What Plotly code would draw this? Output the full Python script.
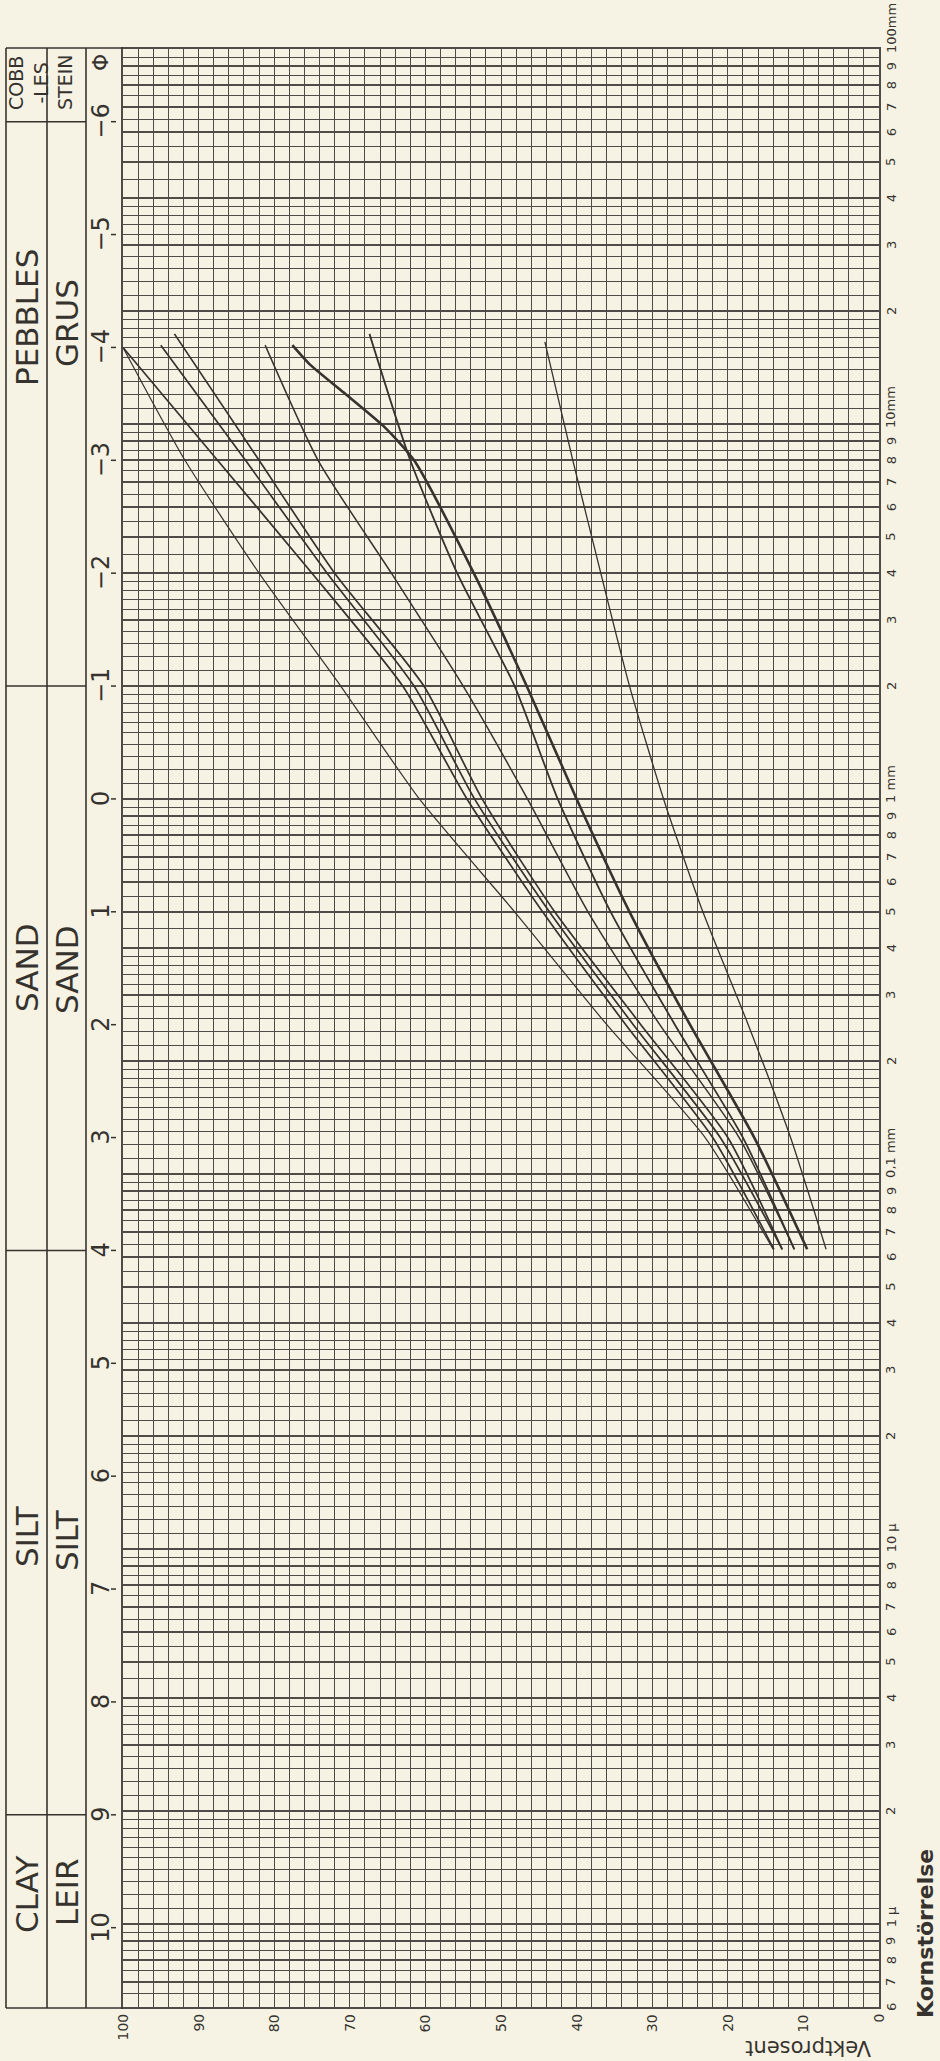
import math
import plotly.graph_objects as go

# ---------------- data ----------------
# weight-percent scale (horizontal in the picture)
pct_major = list(range(0, 101, 10))
pct_minor = [v for v in range(0, 101, 2) if v % 10]
pct_labels = [str(v) for v in pct_major]

# phi scale (grain size, vertical)
phi_ticks = list(range(-6, 11))
phi_labels = ['\u22126', '\u22125', '\u22124', '\u22123', '\u22122', '\u22121',
              '0', '1', '2', '3', '4', '5', '6', '7', '8', '9', '10']

# log-mm grid: decades and digit subdivisions
decades_mm = [0.0001, 0.001, 0.01, 0.1, 1, 10]
heavy_digits = [1, 2, 3, 4, 5, 6, 7, 8, 9]
fine_digits = [1.1, 1.2, 1.3, 1.4, 1.5, 1.6, 1.7, 1.8, 1.9,
               2.2, 2.4, 2.6, 2.8, 3.2, 3.4, 3.6, 3.8,
               4.5, 5.5, 6.5, 7.5, 8.5, 9.5]
mm_top, mm_bottom = 100.0, 0.0006

# right-hand mm labels
mm_label_vals = [100, 90, 80, 70, 60, 50, 40, 30, 20,
                 10, 9, 8, 7, 6, 5, 4, 3, 2,
                 1, 0.9, 0.8, 0.7, 0.6, 0.5, 0.4, 0.3, 0.2,
                 0.1, 0.09, 0.08, 0.07, 0.06, 0.05, 0.04, 0.03, 0.02,
                 0.01, 0.009, 0.008, 0.007, 0.006, 0.005, 0.004, 0.003, 0.002,
                 0.001, 0.0009, 0.0008, 0.0007, 0.0006]
mm_label_text = ['100mm', '9', '8', '7', '6', '5', '4', '3', '2',
                 '10mm', '9', '8', '7', '6', '5', '4', '3', '2',
                 '1 mm', '9', '8', '7', '6', '5', '4', '3', '2',
                 '0,1 mm', '9', '8', '7', '6', '5', '4', '3', '2',
                 '10 \u00b5', '9', '8', '7', '6', '5', '4', '3', '2',
                 '1 \u00b5', '9', '8', '7', '6']

# size classes (English / Norwegian) and boundaries in phi
class_bounds_phi = [-6, -1, 4, 9]

# grain-size curves: phi, cumulative weight percent
c1_phi = [-4.0, -3, -2, -1, 0, 1, 2, 3, 3.99]
c1_pct = [100, 91.8, 82.0, 71.2, 60.8, 48.2, 36.0, 23.0, 14.0]
c2_phi = [-4.0, -3, -2, -1, 0, 1, 2, 3, 3.99]
c2_pct = [100, 87.5, 75.0, 63.0, 54.5, 44.5, 33.5, 22.0, 13.9]
c3_phi = [-4.02, -3, -2, -1, 0, 1, 2, 3, 3.99]
c3_pct = [95.0, 83.8, 73.0, 61.5, 53.5, 43.6, 32.5, 21.0, 12.8]
c4_phi = [-4.12, -3, -2, -1, 0, 1, 2, 3, 3.99]
c4_pct = [93.2, 82.0, 72.0, 60.2, 52.5, 42.9, 31.5, 20.0, 12.8]
c5_phi = [-4.02, -3, -2, -1, 0, 1, 2, 3, 3.99]
c5_pct = [81.2, 74.2, 64.5, 55.0, 46.5, 38.5, 29.0, 18.5, 11.2]
c6_phi = [-4.02, -3.85, -3.6, -3.3, -3, -2, -1, 0, 1, 2, 3, 3.99]
c6_pct = [77.6, 75.3, 70.8, 65.5, 61.5, 53.6, 46.6, 40.0, 33.0, 25.0, 16.5, 9.5]
c7_phi = [-4.12, -3, -2, -1, 0, 1, 2, 3, 3.99]
c7_pct = [67.4, 62.0, 55.8, 48.2, 42.5, 35.5, 27.0, 18.0, 11.2]
c8_phi = [-4.05, -3, -2, -1, 0, 1, 2, 3, 3.99]
c8_pct = [44.2, 40.5, 36.8, 33.0, 28.5, 23.3, 17.3, 11.7, 7.0]

curves = [(c1_phi, c1_pct, 1.2), (c2_phi, c2_pct, 1.7), (c3_phi, c3_pct, 1.7),
          (c4_phi, c4_pct, 1.7), (c5_phi, c5_pct, 1.5), (c6_phi, c6_pct, 2.6),
          (c7_phi, c7_pct, 1.8), (c8_phi, c8_pct, 1.3)]

# ---------------- layout helpers ----------------
W, H = 940, 2061
L, R, T, B = 123, 879, 49, 2007


def phi(mm):
    return -math.log2(mm)


def xp(px):
    return (px - L) / (R - L)


def yp(py):
    return (B - py) / (B - T)


def in_range(mm):
    return mm_bottom * 0.999 <= mm <= mm_top * 1.001


heavy_mm = [d * k for k in decades_mm for d in heavy_digits] + [100]
fine_mm = [d * k for k in decades_mm for d in fine_digits]
heavy_phi = [phi(m) for m in heavy_mm if in_range(m)]
fine_phi = [phi(m) for m in fine_mm if in_range(m)]

INK = '#36332f'
GRID = '#4f4b46'
PAPER = '#f7f3e4'

fig = go.Figure()
for cp, cv, w in curves:
    fig.add_trace(go.Scatter(x=cv, y=cp, mode='lines',
                             line=dict(color=INK, width=w, shape='spline', smoothing=0.6),
                             hoverinfo='skip', showlegend=False))

fig.update_layout(
    width=W, height=H,
    margin=dict(l=L, r=W - R, t=T, b=H - B),
    paper_bgcolor=PAPER, plot_bgcolor=PAPER,
    showlegend=False,
    xaxis=dict(range=[100, 0], tickvals=pct_major, showticklabels=False, ticks='',
               showgrid=True, gridcolor=GRID, gridwidth=1.4, zeroline=False,
               showline=True, mirror=True, linecolor=GRID, linewidth=1.8,
               minor=dict(tickvals=pct_minor, showgrid=True, gridcolor=GRID, gridwidth=0.9, ticks='')),
    yaxis=dict(range=[phi(mm_bottom), phi(mm_top)], tickvals=heavy_phi, showticklabels=False,
               ticks='', showgrid=True, gridcolor=GRID, gridwidth=1.5, zeroline=False,
               showline=True, mirror=True, linecolor=GRID, linewidth=1.8,
               minor=dict(tickvals=fine_phi, showgrid=True, gridcolor=GRID, gridwidth=0.8, ticks='')),
)

shapes = []
lc = dict(color=INK, width=1.6)
# table frame
for xv in [6, 47, 86]:
    shapes.append(dict(type='line', xref='paper', yref='paper', x0=xp(xv), x1=xp(xv),
                       y0=yp(48), y1=yp(2008), line=lc))
for yv in [48, 2008]:
    shapes.append(dict(type='line', xref='paper', yref='paper', x0=xp(6), x1=xp(L),
                       y0=yp(yv), y1=yp(yv), line=lc))
for b in class_bounds_phi:
    shapes.append(dict(type='line', xref='paper', yref='y', x0=xp(6), x1=xp(86),
                       y0=b, y1=b, line=lc))
# phi tick marks
for p in phi_ticks:
    shapes.append(dict(type='line', xref='paper', yref='y', x0=xp(111), x1=xp(116),
                       y0=p, y1=p, line=dict(color=INK, width=1.5)))
fig.update_layout(shapes=shapes)

ann = []
FONT = 'DejaVu Sans'
# phi labels
for p, t in zip(phi_ticks, phi_labels):
    ann.append(dict(x=xp(101), y=p, xref='paper', yref='y', text=t, showarrow=False,
                    textangle=-90, font=dict(family=FONT, size=24, color=INK),
                    xanchor='center', yanchor='middle'))
ann.append(dict(x=xp(100), y=yp(63), xref='paper', yref='paper', text='\u03a6', showarrow=False,
                textangle=-90, font=dict(family=FONT, size=22, color=INK),
                xanchor='center', yanchor='middle'))
# mm labels on the right
for v, t in zip(mm_label_vals, mm_label_text):
    if len(t) == 1:
        ann.append(dict(x=xp(891), y=phi(v), xref='paper', yref='y', text=t, showarrow=False,
                        textangle=-90, font=dict(family=FONT, size=13, color=INK),
                        xanchor='center', yanchor='middle'))
    else:
        ann.append(dict(x=xp(891), y=phi(v), xref='paper', yref='y', text=t, showarrow=False,
                        textangle=-90, font=dict(family=FONT, size=13, color=INK),
                        xanchor='center', yanchor='bottom', yshift=-6))
# percent labels
for v, t in zip(pct_major, pct_labels):
    ann.append(dict(x=v, y=yp(2012), xref='x', yref='paper', text=t, showarrow=False,
                    textangle=-90, font=dict(family=FONT, size=14, color=INK),
                    xanchor='center', yanchor='top'))
ann.append(dict(x=xp(808), y=yp(2048), xref='paper', yref='paper', text='Vektprosent',
                showarrow=False, textangle=180, font=dict(family=FONT, size=21, color=INK),
                xanchor='center', yanchor='middle'))
ann.append(dict(x=xp(925), y=yp(1934), xref='paper', yref='paper', text='<b>Kornst\u00f6rrelse</b>',
                showarrow=False, textangle=-90, font=dict(family=FONT, size=22, color=INK),
                xanchor='center', yanchor='middle'))
# class names
class_text = [('PEBBLES', 27, 318), ('GRUS', 67, 323),
              ('SAND', 27, 968), ('SAND', 67, 970),
              ('SILT', 27, 1536), ('SILT', 67, 1540),
              ('CLAY', 27, 1895), ('LEIR', 67, 1892)]
for t, xv, yv in class_text:
    ann.append(dict(x=xp(xv), y=yp(yv), xref='paper', yref='paper', text=t, showarrow=False,
                    textangle=-90, font=dict(family=FONT, size=31, color=INK),
                    xanchor='center', yanchor='middle'))
ann.append(dict(x=xp(28), y=yp(83), xref='paper', yref='paper', text='COBB<br>-LES',
                showarrow=False, textangle=-90, font=dict(family=FONT, size=19, color=INK),
                xanchor='center', yanchor='middle'))
ann.append(dict(x=xp(65), y=yp(82), xref='paper', yref='paper', text='STEIN',
                showarrow=False, textangle=-90, font=dict(family=FONT, size=19, color=INK),
                xanchor='center', yanchor='middle'))
fig.update_layout(annotations=ann)

fig.write_html('out.html')
